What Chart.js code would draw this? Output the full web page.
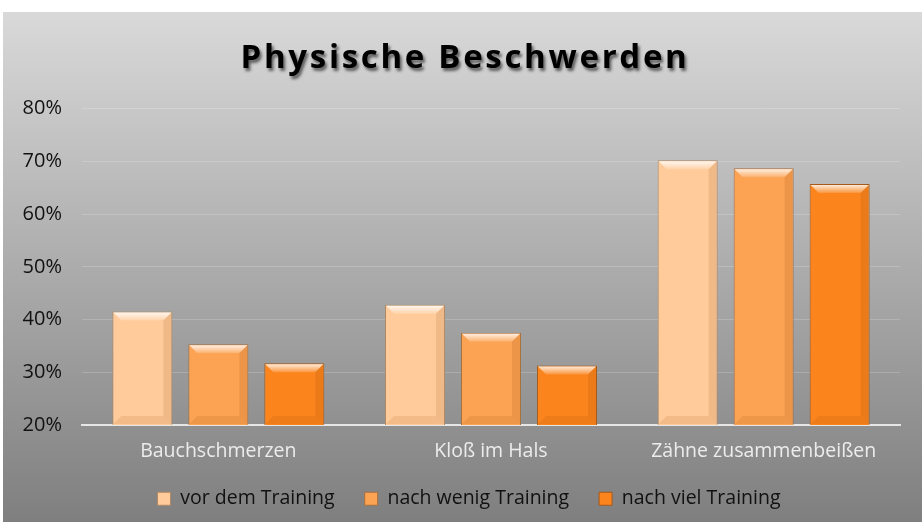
<!DOCTYPE html>
<html>
<head>
<meta charset="utf-8">
<script src="https://cdn.jsdelivr.net/npm/chart.js@4"></script>
<style>
  body { margin: 0; background: #fff; }
  #wrap {
    position: absolute; left: 3px; top: 12px; width: 919px; height: 510px;
    background: linear-gradient(#d9d9d9, #7f7f7f);
  }
</style>
</head>
<body>
<div id="wrap"><canvas id="myChart"></canvas></div>
<script>
// Daten
var categories = ['Bauchschmerzen', 'Kloß im Hals', 'Zähne zusammenbeißen'];
var seriesNames = ['vor dem Training', 'nach wenig Training', 'nach viel Training'];
var vorDemTraining = [41.5, 42.8, 70.2];
var nachWenigTraining = [35.3, 37.5, 68.7];
var nachVielTraining = [31.7, 31.3, 65.7];
var yTicks = [20, 30, 40, 50, 60, 70, 80];

var colors = ['#ffcb9b', '#fca253', '#fb841d'];
var borders = ['#b08a64', '#a87040', '#a35a1c'];

// kleiner Bevel-Effekt auf den Balken
var bevelPlugin = {
  id: 'bevel',
  afterDatasetsDraw: function(chart) {
    var ctx = chart.ctx;
    var area = chart.chartArea;
    chart.data.datasets.forEach(function(ds, i) {
      chart.getDatasetMeta(i).data.forEach(function(bar) {
        var x0 = bar.x - bar.width / 2, x1 = bar.x + bar.width / 2;
        var top = bar.y, bot = Math.min(bar.base, area.bottom), b = 9;
        ctx.save();
        // oben hell
        var g = ctx.createLinearGradient(0, top, 0, top + b);
        g.addColorStop(0, 'rgba(255,255,255,0.9)');
        g.addColorStop(1, 'rgba(255,255,255,0.15)');
        ctx.fillStyle = g;
        ctx.beginPath();
        ctx.moveTo(x0 + 1, top + 1); ctx.lineTo(x1 - 1, top + 1);
        ctx.lineTo(x1 - b, top + b); ctx.lineTo(x0 + b, top + b);
        ctx.closePath(); ctx.fill();
        // rechts dunkel
        ctx.fillStyle = 'rgba(120,60,0,0.12)';
        ctx.beginPath();
        ctx.moveTo(x1 - 1, top + 1); ctx.lineTo(x1 - 1, bot - 1);
        ctx.lineTo(x1 - b, bot - b); ctx.lineTo(x1 - b, top + b);
        ctx.closePath(); ctx.fill();
        // unten dunkel
        ctx.fillStyle = 'rgba(150,70,0,0.12)';
        ctx.beginPath();
        ctx.moveTo(x0 + 1, bot - 1); ctx.lineTo(x1 - 1, bot - 1);
        ctx.lineTo(x1 - b, bot - b); ctx.lineTo(x0 + b, bot - b);
        ctx.closePath(); ctx.fill();
        ctx.restore();
      });
    });
  }
};

// Schatten + Sperrung für den Titel
var titleShadow = {
  id: 'titleShadow',
  beforeDraw: function(chart) {
    var t = chart.titleBlock;
    if (t && !t._shadowed) {
      var orig = t.draw;
      t.draw = function() {
        var ctx = chart.ctx;
        ctx.save();
        ctx.shadowColor = 'rgba(0,0,0,0.55)';
        ctx.shadowOffsetX = 2;
        ctx.shadowOffsetY = 3;
        ctx.shadowBlur = 3;
        ctx.letterSpacing = '2.7px';
        orig.apply(this, arguments);
        ctx.restore();
      };
      t._shadowed = true;
    }
  }
};

// Legende und Titel etwas verschieben
var boxShift = {
  id: 'boxShift',
  afterLayout: function(chart) {
    chart.legend.top -= 8;
    chart.legend.bottom -= 8;
    chart.legend.left += 8;
    chart.legend.right += 8;
    chart.titleBlock.left += 4;
    chart.titleBlock.right += 4;
  }
};

var data = {
  labels: categories,
  datasets: [vorDemTraining, nachWenigTraining, nachVielTraining].map(function(vals, i) {
    return {
      label: seriesNames[i],
      data: vals,
      backgroundColor: colors[i],
      borderColor: borders[i],
      borderWidth: 1,
      categoryPercentage: 0.836,
      barPercentage: 0.79
    };
  })
};

new Chart(document.getElementById('myChart'), {
  type: 'bar',
  data: data,
  options: {
    responsive: true,
    maintainAspectRatio: false,
    animation: false,
    layout: { autoPadding: false, padding: { left: 19, right: 22, top: 14, bottom: 4 } },
    scales: {
      x: {
        grid: { display: false, drawTicks: false },
        border: { display: true, color: '#e6e6e6', width: 2 },
        ticks: { color: '#ececec', font: { family: 'Open Sans', size: 19.5 }, padding: 15 },
        afterFit: function(scale) { scale.height = 42; }
      },
      y: {
        min: 20, max: 80,
        afterBuildTicks: function(axis) {
          axis.ticks = yTicks.map(function(v) { return { value: v }; });
        },
        afterFit: function(scale) { scale.width = 60; },
        grid: { color: 'rgba(255,255,255,0.18)', drawTicks: false },
        border: { display: false },
        ticks: {
          color: '#111',
          font: { family: 'Open Sans', size: 20 },
          padding: 20,
          callback: function(v) { return v + '%'; }
        }
      }
    },
    plugins: {
      title: {
        display: true,
        text: 'Physische Beschwerden',
        color: '#000',
        font: { family: 'Open Sans', size: 33, weight: 'bold' },
        padding: { top: 13, bottom: 30 }
      },
      legend: {
        position: 'bottom',
        maxHeight: 51,
        labels: {
          color: '#111',
          font: { family: 'Open Sans', size: 19.5 },
          boxWidth: 13,
          boxHeight: 13,
          padding: 30
        }
      },
      tooltip: { enabled: false }
    }
  },
  plugins: [bevelPlugin, titleShadow, boxShift]
});
</script>
</body>
</html>
